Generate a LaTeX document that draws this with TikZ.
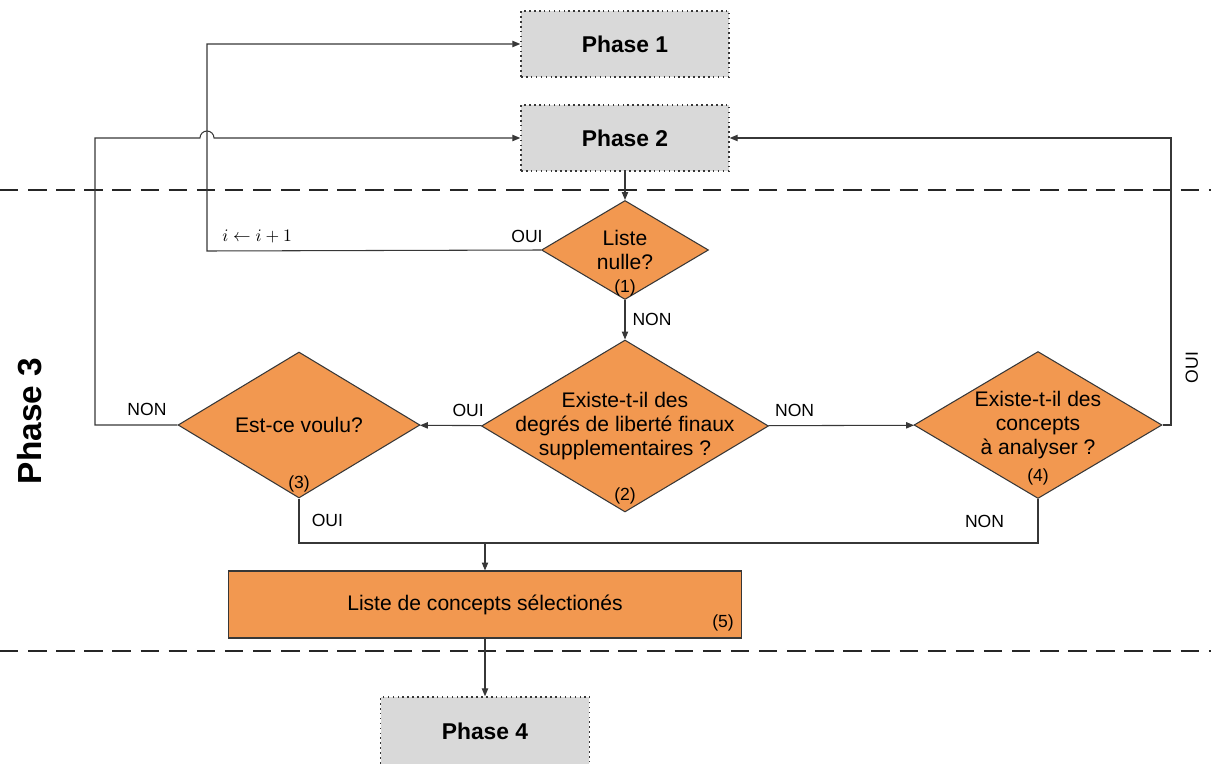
\documentclass[tikz,border=0pt]{standalone}
\usepackage{fontspec}
\setmainfont{Liberation Sans}
\usetikzlibrary{shapes.geometric, arrows.meta, positioning}
\definecolor{steporange}{RGB}{242, 152, 80}
\definecolor{phasegray}{RGB}{217, 217, 217}
\definecolor{linegray}{RGB}{55, 55, 55}

\begin{document}
\begin{tikzpicture}[
  x=0.02cm, y=0.02cm,
  phasebox/.style={draw=linegray, line width=0.8pt, dash pattern=on 0.9pt off 1.9pt, fill=phasegray, minimum width=4.16cm, minimum height=1.32cm, font=\fontsize{13}{15}\selectfont\bfseries},
  decision/.style={diamond, draw=linegray, line width=0.6pt, fill=steporange, inner sep=0pt},
  dtext/.style={anchor=center, align=center, inner sep=0pt, font=\fontsize{12}{13.6}\selectfont},
  num/.style={anchor=center, inner sep=0pt, font=\fontsize{10}{12}\selectfont},
  lbl/.style={inner sep=1pt, font=\fontsize{10}{12}\selectfont},
  link/.style={draw=linegray, line width=0.6pt},
  arr/.style={link, -{Triangle[length=4.5pt, width=3.6pt]}},
  sep/.style={draw=black!85, line width=0.9pt, dash pattern=on 10.5pt off 5.5pt}
]
  \useasboundingbox (0,-764) rectangle (1211,0);

  % phase separators
  \draw[sep] (0,-190) -- (1211,-190);
  \draw[sep] (0,-651) -- (1211,-651);
  \node[rotate=90, font=\fontsize{19}{22}\selectfont\bfseries] (phase3) at (30,-421) {Phase 3};

  \node[phasebox] (ph1) at (625,-44) {Phase 1};
  \node[phasebox] (ph2) at (625,-138) {Phase 2};
  \node[phasebox, minimum width=4.18cm, minimum height=1.36cm] (ph4) at (485,-731) {Phase 4};

  \node[decision, minimum width=3.34cm, minimum height=1.98cm,
    label={[dtext]center:{Liste\\nulle?}},
    label={[num, yshift=6.8pt]south:(1)}] (d1) at (625,-250) {};
  \node[decision, minimum width=5.74cm, minimum height=3.44cm,
    label={[dtext]center:{Existe-t-il des\\degrés de liberté finaux\\supplementaires ?}},
    label={[num, yshift=9.6pt]south:(2)}] (d2) at (625,-426) {};
  \node[decision, minimum width=4.84cm, minimum height=2.92cm,
    label={[dtext]center:{Est-ce voulu?}},
    label={[num, yshift=8.5pt]south:(3)}] (d3) at (299,-425) {};
  \node[decision, minimum width=4.96cm, minimum height=2.94cm,
    label={[dtext]center:{Existe-t-il des\\concepts\\à analyser ?}},
    label={[num, yshift=12.5pt]south:(4)}] (d4) at (1038,-425) {};

  \node[draw=linegray, line width=0.6pt, fill=steporange, minimum width=10.26cm, minimum height=1.34cm, font=\fontsize{12}{14}\selectfont,
    label={[num, anchor=south east, xshift=-4.5pt, yshift=4pt]south east:(5)}] (sel) at (485,-604.5) {Liste de concepts sélectionés};

  % loop points
  \coordinate (lx1) at (207,-251);
  \coordinate (lx3) at (95,-425);
  \coordinate (hop) at (207,-138);
  \coordinate (rx4) at (1171,-425);
  \coordinate (mg3) at (299,-543);
  \coordinate (mg4) at (1038,-543);
  \coordinate (mg) at (485,-543);

  \draw[arr] (ph2) -- (d1);
  \draw[arr] (d1.west) -- node[lbl, pos=0.042, above=3pt] {OUI}
    node[lbl, pos=0.85, above=3pt] {$i \leftarrow i+1$} (lx1) |- (ph1.west);
  \draw[arr] (d1) -- node[lbl, right=3pt] {NON} (d2);
  \draw[arr] (d2) -- node[lbl, pos=0.22, above=4pt] {OUI} (d3);
  \draw[arr] (d2) -- node[lbl, pos=0.18, above=4pt] {NON} (d4);
  \draw[arr] (d3.west) -- node[lbl, pos=0.37, above=4pt] {NON} (lx3) |- ([xshift=-0.14cm]hop)
    arc[start angle=180, end angle=0, radius=0.14cm] -- (ph2.west);
  \draw[arr] (d4.east) -- (rx4) |- node[lbl, pos=0.1, right=7pt, rotate=90, anchor=north] {OUI} (ph2.east);
  \draw[link] (d3.south) -- node[lbl, right=6pt] {OUI} (mg3) -- (mg4) -- node[lbl, left=18pt] {NON} (d4.south);
  \draw[arr] (mg) -- (sel);
  \draw[arr] (sel) -- (ph4);
\end{tikzpicture}
\end{document}
